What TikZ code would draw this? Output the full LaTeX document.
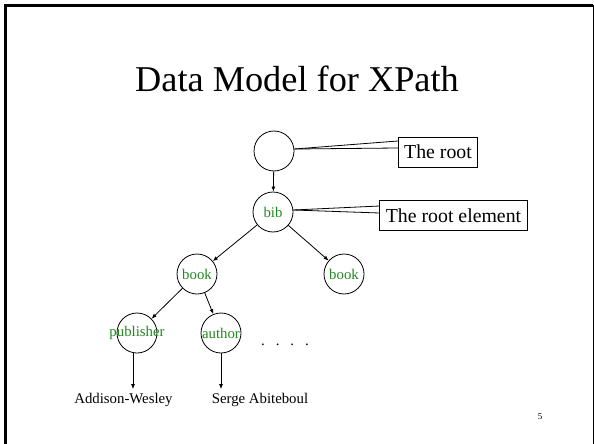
\documentclass[tikz,border=0pt]{standalone}
\usepackage{fontspec}
\setmainfont{Liberation Serif}
\usetikzlibrary{arrows.meta,shapes,calc,positioning}
\definecolor{labelgreen}{RGB}{34,136,34}
\newcommand{\elemlabel}[1]{\makebox[0pt]{#1}}

\begin{document}
\begin{tikzpicture}[x=1pt,y=-1pt]

    \tikzset
    {
        elem/.style={circle, draw, line width=0.8pt, minimum size=40pt, inner sep=0pt, text=labelgreen, font={\fontsize{14.8pt}{16pt}\selectfont}},
        callout/.style={draw, line width=0.8pt, inner xsep=6pt, inner ysep=0pt, minimum height=30pt, font={\fontsize{19.8pt}{22pt}\selectfont}},
        leaf/.style={inner sep=0pt, font={\fontsize{14.8pt}{16pt}\selectfont}},
        arr/.style={line width=0.8pt, -{Latex[length=5pt,width=4pt]}}
    }

    \useasboundingbox (0,0) rectangle (594,444);

    % slide frame
    \draw[line width=2.5pt] (5.5,460) -- (5.5,5.5) -- (593,5.5);
    \draw[line width=1pt] (593,5.5) -- (593,460);

    \node[anchor=base, inner sep=0pt, font={\fontsize{36.3pt}{40pt}\selectfont}] (title) at (297,92) {Data Model for XPath};

    \node[elem] (root) at (274,151) {};
    \node[elem] (bib) at (273,212) {\elemlabel{bib}};
    \node[elem] (book1) at (197,274) {\elemlabel{book}};
    \node[elem] (book2) at (344,274) {\elemlabel{book}};
    \node[elem] (publisher) at (137,333) {\elemlabel{publisher}};
    \node[elem] (author) at (221,333) {\elemlabel{author}};

    \node[leaf, anchor=base] (dots) at (285,345) {.\hspace{11pt}.\hspace{11pt}.\hspace{11pt}.};

    \node[leaf] (addison) at (123.5,400) {Addison-Wesley};
    \node[leaf] (serge) at (260,400) {Serge Abiteboul};

    \node[callout] (rootbox) at (438,152) {The root};
    \node[callout] (bibbox) at (453.5,215.5) {The root element};

    \node[inner sep=0pt, font={\fontsize{9pt}{10pt}\selectfont}] (pagenum) at (540,417) {5};

    \draw[arr] (root) -- (bib);
    \draw[arr] (bib) -- (book1);
    \draw[arr] (bib) -- (book2);
    \draw[arr] (book1) -- (publisher);
    \draw[arr] (book1) -- (author);
    \draw[arr] ([xshift=-4pt]publisher.south) -- ([xshift=9.5pt,yshift=4pt]addison.north);
    \draw[arr] (author.south) -- ([xshift=-39pt,yshift=4pt]serge.north);

    \draw[line width=0.8pt] ([yshift=2pt]root.east) -- ([yshift=11pt]rootbox.west);
    \draw[line width=0.8pt] ([yshift=2pt]root.east) -- ([yshift=4pt]rootbox.west);
    \draw[line width=0.8pt] ([yshift=2pt]bib.east) -- ([yshift=9.5pt]bibbox.west);
    \draw[line width=0.8pt] ([yshift=2pt]bib.east) -- ([yshift=2.5pt]bibbox.west);

\end{tikzpicture}
\end{document}
